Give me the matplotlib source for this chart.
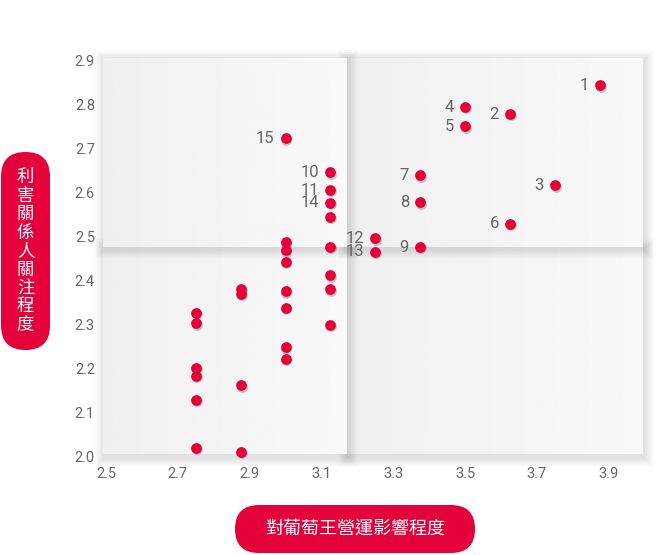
import numpy as np
import matplotlib
matplotlib.use("Agg")
import matplotlib.pyplot as plt
import matplotlib.transforms as mtransforms
from matplotlib.patches import Rectangle, FancyBboxPatch

# labelled topics: (id, impact on operations, stakeholder concern)
topic_ids = [1, 2, 3, 4, 5, 6, 7, 8, 9, 10, 11, 12, 13, 14, 15]
topic_x = [3.875, 3.625, 3.75, 3.5, 3.5, 3.625, 3.375, 3.375, 3.375,
           3.125, 3.125, 3.25, 3.25, 3.125, 3.0]
topic_y = [2.845, 2.779, 2.617, 2.795, 2.751, 2.529, 2.640, 2.578, 2.476,
           2.646, 2.606, 2.496, 2.465, 2.577, 2.724]

# unlabelled topics
other_x = [3.125, 3.125, 3.125, 3.125, 3.125,
           3.0, 3.0, 3.0, 3.0, 3.0, 3.0, 3.0,
           2.875, 2.875, 2.875, 2.875,
           2.75, 2.75, 2.75, 2.75, 2.75, 2.75]
other_y = [2.545, 2.476, 2.412, 2.380, 2.299,
           2.488, 2.469, 2.442, 2.375, 2.337, 2.248, 2.221,
           2.381, 2.369, 2.161, 2.009,
           2.326, 2.302, 2.201, 2.183, 2.128, 2.018]

x_ticks = [2.5, 2.7, 2.9, 3.1, 3.3, 3.5, 3.7, 3.9]
y_ticks = [2.0, 2.1, 2.2, 2.3, 2.4, 2.5, 2.6, 2.7, 2.8, 2.9]
x_split, y_split = 3.171, 2.477

x_title = "對葡萄王營運影響程度"
y_title = "利害關係人關注程度"

RED = "#e4003a"
GREY = "#666666"
W, H = 657, 555

fig = plt.figure(figsize=(W / 100, H / 100), dpi=100)
fig.patch.set_facecolor("white")

# axes placed so that 2.5 -> px 106, 4.0 -> px 644.5, 2.9 -> px 61, 2.0 -> px 456
ax = fig.add_axes([106 / W, (H - 456) / H, 538.5 / W, 395 / H])
ax.set_xlim(2.5, 4.0)
ax.set_ylim(2.0, 2.9)
px_x = 1.5 / 538.5
px_y = 0.9 / 395

# quadrant panels with soft shadows
x_lo, x_hi = 2.5 - 3 * px_x, 2.5 + 536 * px_x
y_lo, y_hi = 2.0 + 1.5 * px_y, 2.9 + 3 * px_y
panels = [
    (x_split, x_hi, y_lo, y_split),
    (x_lo, x_split, y_lo, y_split),
    (x_split, x_hi, y_split, y_hi),
    (x_lo, x_split, y_split, y_hi),
]
grad = np.linspace(0.94, 0.975, 256).reshape(1, -1)
for z, (x0, x1, y0, y1) in enumerate(panels):
    for k in range(1, 11):
        ax.add_patch(Rectangle((x0 - k * px_x + 1.5 * px_x, y0 - k * px_y - 2.5 * px_y),
                               (x1 - x0) + 2 * k * px_x, (y1 - y0) + 2 * k * px_y,
                               facecolor="black", edgecolor="none", alpha=0.011,
                               clip_on=False, zorder=z * 2))
    im = ax.imshow(grad, extent=(x0, x1, y0, y1), cmap="gray", vmin=0, vmax=1,
                   aspect="auto", interpolation="bilinear", zorder=z * 2 + 1)
    im.set_clip_on(False)
ax.set_xlim(2.5, 4.0)
ax.set_ylim(2.0, 2.9)

all_x = topic_x + other_x
all_y = topic_y + other_y
shadow = mtransforms.offset_copy(ax.transData, fig=fig, x=0.7, y=-1.0, units="points")
ax.scatter(all_x, all_y, s=60, color="black", alpha=0.22, linewidths=0,
           transform=shadow, zorder=20, clip_on=False)
ax.scatter(all_x, all_y, s=60, color=RED, linewidths=0, zorder=21, clip_on=False)

for tid, x, y in zip(topic_ids, topic_x, topic_y):
    ax.annotate(str(tid), (x, y), xytext=(-8, 0), textcoords="offset points",
                ha="right", va="center", fontsize=12, color=GREY,
                family="Roboto", zorder=22)

ax.set_xticks(x_ticks)
ax.set_yticks(y_ticks)
ax.set_xticklabels([f"{v:.1f}" for v in x_ticks], family="Roboto", fontsize=10.5, color=GREY)
ax.set_yticklabels([f"{v:.1f}" for v in y_ticks], family="Roboto", fontsize=10.5, color=GREY)
ax.tick_params(length=0, pad=8)
for s in ax.spines.values():
    s.set_visible(False)
ax.patch.set_visible(False)

# pill-shaped axis titles, in pixel coordinates
bg = fig.add_axes([0, 0, 1, 1], zorder=-1)
bg.set_xlim(0, W)
bg.set_ylim(H, 0)
bg.axis("off")
ax.set_zorder(1)

bg.add_patch(FancyBboxPatch((1, 152), 49, 198, boxstyle="round,pad=0,rounding_size=24.5",
                            facecolor=RED, edgecolor="none"))
pitch = 18.5
y_start = 251 - pitch * (len(y_title) - 1) / 2
for i, ch in enumerate(y_title):
    bg.text(25.5, y_start + i * pitch, ch, ha="center", va="center", color="white",
            fontsize=12.5, family="Noto Sans CJK TC", weight="light")

bg.add_patch(FancyBboxPatch((235, 505), 240, 48, boxstyle="round,pad=0,rounding_size=24",
                            facecolor=RED, edgecolor="none"))
bg.text(355, 529, x_title, ha="center", va="center", color="white",
        fontsize=13, family="Noto Sans CJK TC", weight="light")

fig.savefig("out.png", dpi=100, facecolor="white")
